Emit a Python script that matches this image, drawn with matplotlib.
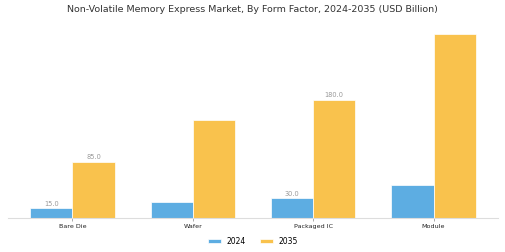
import matplotlib
matplotlib.use("Agg")
import matplotlib.pyplot as plt
import numpy as np

categories = ["Bare Die", "Wafer", "Packaged IC", "Module"]
values_2024 = [15.0, 25.0, 30.0, 50.0]
values_2035 = [85.0, 150.0, 180.0, 280.0]
labels_2024 = ["15.0", "", "30.0", ""]
labels_2035 = ["85.0", "", "180.0", ""]
series_names = ["2024", "2035"]

fig = plt.figure(figsize=(5.05, 2.53), dpi=100)
ax = fig.add_axes([8/505, 34/253, 490/505, 193/253])

x = np.arange(len(categories))
w = 0.35
b1 = ax.bar(x - w/2, values_2024, w, color="#5DADE2", edgecolor="white", linewidth=0.5, label=series_names[0])
b2 = ax.bar(x + w/2, values_2035, w, color="#F9C24D", edgecolor="white", linewidth=0.5, label=series_names[1])

for rect, lab in zip(b1, labels_2024):
    if lab:
        ax.text(rect.get_x() + rect.get_width()/2, rect.get_height() + 3, lab,
                ha="center", va="bottom", fontsize=4.8, color="#999999")
for rect, lab in zip(b2, labels_2035):
    if lab:
        ax.text(rect.get_x() + rect.get_width()/2, rect.get_height() + 5, lab,
                ha="center", va="bottom", fontsize=4.8, color="#999999")

ax.set_xlim(-0.535, 3.535)
ax.set_ylim(0, 294)
ax.set_xticks(x)
ax.set_xticklabels(categories, fontsize=4.6, color="#222222")
ax.tick_params(axis="x", length=2, width=0.5, color="#888888", pad=1.5)
ax.set_yticks([])
for s in ["top", "right", "left"]:
    ax.spines[s].set_visible(False)
ax.spines["bottom"].set_color("#dddddd")
ax.spines["bottom"].set_linewidth(0.8)

fig.suptitle("Non-Volatile Memory Express Market, By Form Factor, 2024-2035 (USD Billion)",
             fontsize=6.8, color="#333333", y=1 - 10/253, va="center")

ax.legend(loc="center", bbox_to_anchor=(0.5, -23/193), bbox_transform=ax.transAxes,
          ncol=2, frameon=False, fontsize=5.5, handlelength=1.7, handleheight=0.5,
          handletextpad=0.8, columnspacing=1.8)

fig.savefig("out.png", dpi=100)
